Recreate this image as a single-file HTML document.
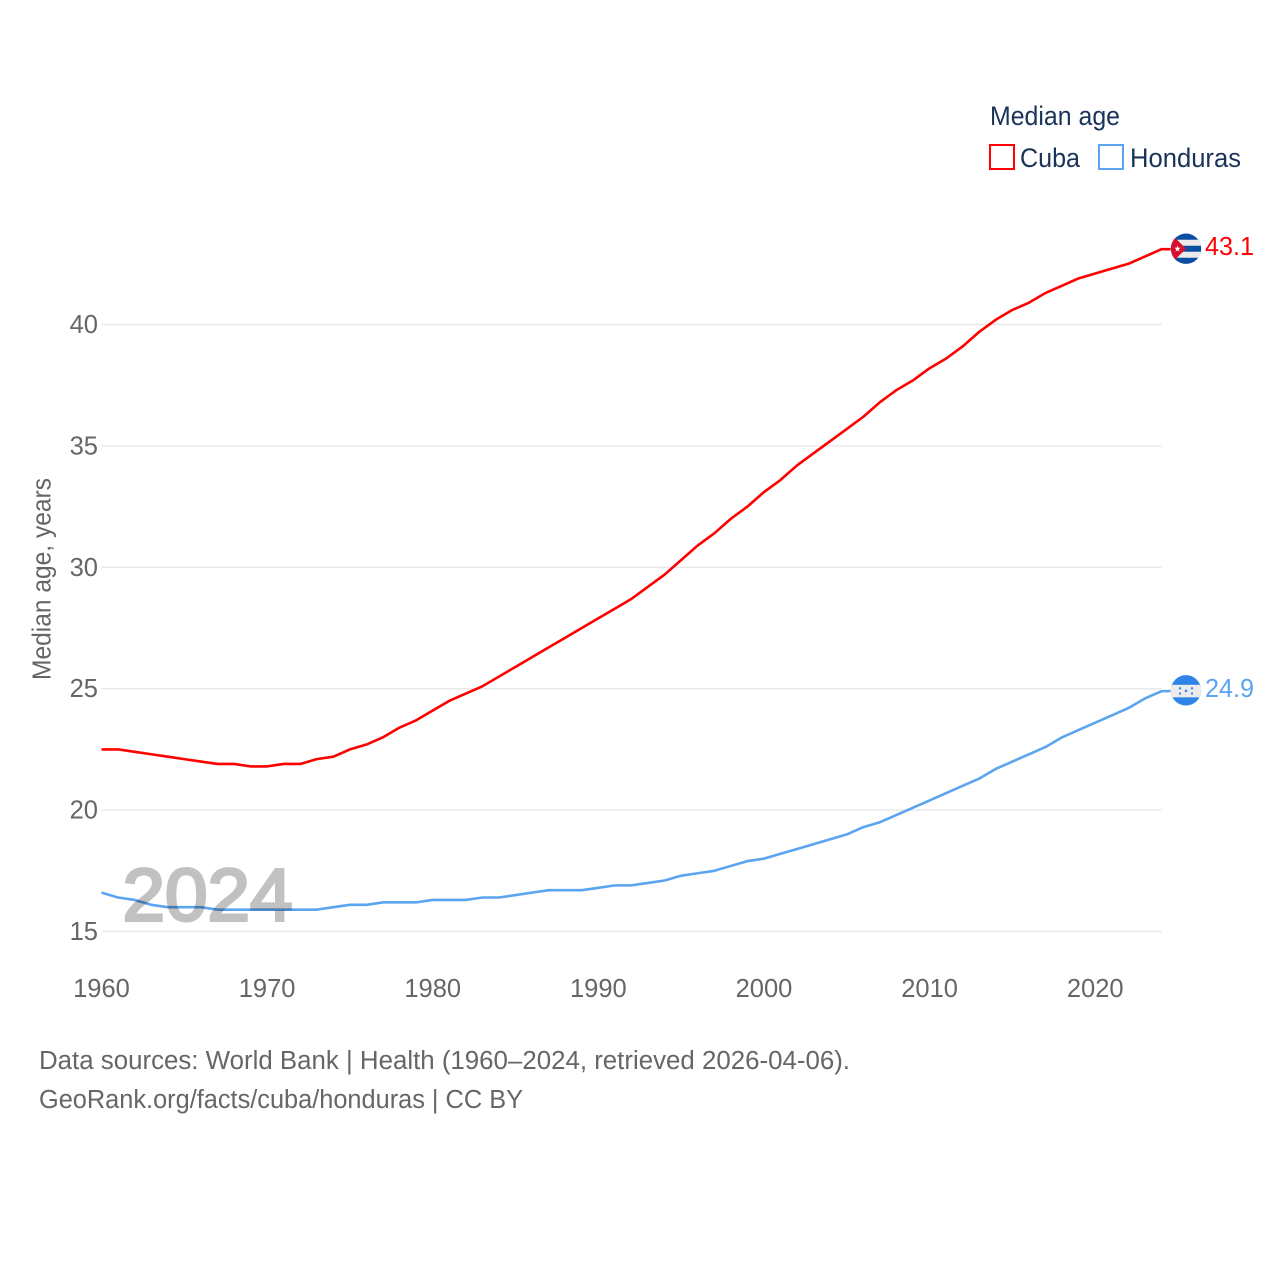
<!DOCTYPE html>
<html lang="en">
<head>
<meta charset="utf-8">
<title>Median age: Cuba and Honduras</title>
<style>
  html, body { margin: 0; padding: 0; background: #fff; }
  svg { display: block; font-family: "Liberation Sans", "DejaVu Sans", sans-serif; }
</style>
</head>
<body>
<svg id="chart" xmlns="http://www.w3.org/2000/svg" width="1280" height="1280" viewBox="0 0 1280 1280">
  <defs>
    <clipPath id="flag-clip"><circle cx="0" cy="0" r="15.2"></circle></clipPath>
  </defs>
  <rect x="0" y="0" width="1280" height="1280" fill="#ffffff"></rect>

  <g id="grid"></g>
  <g id="y-ticks"></g>
  <g id="x-ticks"></g>

  <text transform="translate(50.5,579) rotate(-90)" text-anchor="middle" font-size="25.5" fill="#666666" textLength="202" lengthAdjust="spacingAndGlyphs">Median age, years</text>

  <g id="series"></g>

  <text id="year-watermark" x="122.5" y="920.5" font-size="74" fill="#000000" stroke="#000000" stroke-width="3" opacity="0.24" textLength="170" lengthAdjust="spacingAndGlyphs">2024</text>

  <g id="flag-cuba">
    <g clip-path="url(#flag-clip)">
      <rect x="-16" y="-16" width="32" height="32" fill="#0a4ea3"></rect>
      <rect x="-16" y="-9" width="32" height="6" fill="#ececec"></rect>
      <rect x="-16" y="3" width="32" height="6" fill="#ececec"></rect>
      <polygon points="-20,-20 0,0 -20,20" fill="#d7102f"></polygon>
      <polygon points="-8.5,-3.2 -7.7,-1 -5.4,-1 -7.2,0.5 -6.6,2.8 -8.5,1.5 -10.4,2.8 -9.8,0.5 -11.6,-1 -9.3,-1" fill="#ffffff"></polygon>
    </g>
  </g>
  <g id="flag-honduras">
    <g clip-path="url(#flag-clip)">
      <rect x="-16" y="-16" width="32" height="32" fill="#2f84e8"></rect>
      <rect x="-16" y="-5.5" width="32" height="12.5" fill="#ececec"></rect>
      <circle cx="0" cy="0.5" r="1.3" fill="#3d8be6"></circle>
      <circle cx="-6" cy="-2" r="1.2" fill="#3d8be6"></circle>
      <circle cx="6" cy="-2" r="1.2" fill="#3d8be6"></circle>
      <circle cx="-6" cy="3.2" r="1.2" fill="#3d8be6"></circle>
      <circle cx="6" cy="3.2" r="1.2" fill="#3d8be6"></circle>
    </g>
  </g>
  <g id="end-labels"></g>

  <g>
    <text x="990" y="125" font-size="26.5" fill="#1a3358" textLength="130" lengthAdjust="spacingAndGlyphs">Median age</text>
    <g>
      <rect x="990" y="145" width="24" height="24" fill="#ffffff" stroke="#ff0000" stroke-width="2"></rect>
      <text x="1020" y="167" font-size="26.5" fill="#1a3358" textLength="60" lengthAdjust="spacingAndGlyphs">Cuba</text>
    </g>
    <g>
      <rect x="1099" y="145" width="24" height="24" fill="#ffffff" stroke="#5ba4f0" stroke-width="2"></rect>
      <text x="1130" y="167" font-size="26.5" fill="#1a3358" textLength="111" lengthAdjust="spacingAndGlyphs">Honduras</text>
    </g>
  </g>

  <text x="39" y="1069" font-size="25.5" fill="#666666" textLength="811" lengthAdjust="spacingAndGlyphs">Data sources: World Bank | Health (1960–2024, retrieved 2026-04-06).</text>
  <text x="39" y="1108" font-size="25.5" fill="#666666" textLength="484" lengthAdjust="spacingAndGlyphs">GeoRank.org/facts/cuba/honduras | CC BY</text>
</svg>

<script>
const startYear = 1960;
const yTickValues = [15, 20, 25, 30, 35, 40];
const xTickValues = [1960, 1970, 1980, 1990, 2000, 2010, 2020];
const cubaValues = [
  22.5, 22.5, 22.4, 22.3, 22.2, 22.1, 22.0, 21.9, 21.9, 21.8,
  21.8, 21.9, 21.9, 22.1, 22.2, 22.5, 22.7, 23.0, 23.4, 23.7,
  24.1, 24.5, 24.8, 25.1, 25.5, 25.9, 26.3, 26.7, 27.1, 27.5,
  27.9, 28.3, 28.7, 29.2, 29.7, 30.3, 30.9, 31.4, 32.0, 32.5,
  33.1, 33.6, 34.2, 34.7, 35.2, 35.7, 36.2, 36.8, 37.3, 37.7,
  38.2, 38.6, 39.1, 39.7, 40.2, 40.6, 40.9, 41.3, 41.6, 41.9,
  42.1, 42.3, 42.5, 42.8, 43.1
];
const hondurasValues = [
  16.6, 16.4, 16.3, 16.1, 16.0, 16.0, 16.0, 15.9, 15.9, 15.9,
  15.9, 15.9, 15.9, 15.9, 16.0, 16.1, 16.1, 16.2, 16.2, 16.2,
  16.3, 16.3, 16.3, 16.4, 16.4, 16.5, 16.6, 16.7, 16.7, 16.7,
  16.8, 16.9, 16.9, 17.0, 17.1, 17.3, 17.4, 17.5, 17.7, 17.9,
  18.0, 18.2, 18.4, 18.6, 18.8, 19.0, 19.3, 19.5, 19.8, 20.1,
  20.4, 20.7, 21.0, 21.3, 21.7, 22.0, 22.3, 22.6, 23.0, 23.3,
  23.6, 23.9, 24.2, 24.6, 24.9
];

const SVG_NS = 'http://www.w3.org/2000/svg';
const plotLeft = 101.5;
const plotRight = 1161.5;
const xScale = year => plotLeft + (year - 1960) * (plotRight - plotLeft) / 64;
const yScale = value => 931.5 - (value - 15) * (931.5 - 324.5) / 25;

const gridGroup = document.getElementById('grid');
const yTickGroup = document.getElementById('y-ticks');
const xTickGroup = document.getElementById('x-ticks');
const seriesGroup = document.getElementById('series');
const endLabelGroup = document.getElementById('end-labels');

yTickValues.forEach(value => {
  const line = document.createElementNS(SVG_NS, 'line');
  
  
  line.setAttribute('x1', plotLeft);
  line.setAttribute('x2', plotRight);
  line.setAttribute('y1', yScale(value));
  line.setAttribute('y2', yScale(value));
  line.setAttribute('stroke', '#e9e9e9');
  line.setAttribute('stroke-width', '1.5');
  gridGroup.appendChild(line);

  const label = document.createElementNS(SVG_NS, 'text');
  
  
  label.setAttribute('x', 98);
  label.setAttribute('y', yScale(value) + 8.5);
  label.setAttribute('text-anchor', 'end');
  label.setAttribute('font-size', '25.5');
  label.setAttribute('fill', '#666666');
  label.textContent = String(value);
  yTickGroup.appendChild(label);
});

xTickValues.forEach(year => {
  const label = document.createElementNS(SVG_NS, 'text');
  
  
  label.setAttribute('x', xScale(year));
  label.setAttribute('y', 997);
  label.setAttribute('text-anchor', 'middle');
  label.setAttribute('font-size', '25.5');
  label.setAttribute('fill', '#666666');
  label.textContent = String(year);
  xTickGroup.appendChild(label);
});

function linePath(values) {
  const points = values.map((v, i) => xScale(startYear + i).toFixed(2) + ',' + yScale(v).toFixed(2));
  const last = values[values.length - 1];
  points.push((plotRight + 9) + ',' + yScale(last).toFixed(2));
  return 'M' + points.join(' L');
}

const cubaLine = document.createElementNS(SVG_NS, 'path');


cubaLine.setAttribute('d', linePath(cubaValues));
cubaLine.setAttribute('fill', 'none');
cubaLine.setAttribute('stroke', '#ff0000');
cubaLine.setAttribute('stroke-width', '2.6');
cubaLine.setAttribute('stroke-linejoin', 'round');
seriesGroup.appendChild(cubaLine);

const hondurasLine = document.createElementNS(SVG_NS, 'path');


hondurasLine.setAttribute('d', linePath(hondurasValues));
hondurasLine.setAttribute('fill', 'none');
hondurasLine.setAttribute('stroke', '#5ba4f0');
hondurasLine.setAttribute('stroke-width', '2.6');
hondurasLine.setAttribute('stroke-linejoin', 'round');
seriesGroup.appendChild(hondurasLine);

const cubaLast = cubaValues[cubaValues.length - 1];
const hondurasLast = hondurasValues[hondurasValues.length - 1];
document.getElementById('flag-cuba').setAttribute('transform', 'translate(1186,' + (yScale(cubaLast) - 0.5) + ')');
document.getElementById('flag-honduras').setAttribute('transform', 'translate(1186,' + (yScale(hondurasLast) - 0.8) + ')');

const cubaEnd = document.createElementNS(SVG_NS, 'text');


cubaEnd.setAttribute('x', 1205);
cubaEnd.setAttribute('y', yScale(cubaLast) + 6);
cubaEnd.setAttribute('font-size', '25.5');
cubaEnd.setAttribute('fill', '#ff0000');
cubaEnd.setAttribute('textLength', '49');
cubaEnd.setAttribute('lengthAdjust', 'spacingAndGlyphs');
cubaEnd.textContent = cubaLast.toFixed(1);
endLabelGroup.appendChild(cubaEnd);

const hondurasEnd = document.createElementNS(SVG_NS, 'text');


hondurasEnd.setAttribute('x', 1205);
hondurasEnd.setAttribute('y', yScale(hondurasLast) + 6);
hondurasEnd.setAttribute('font-size', '25.5');
hondurasEnd.setAttribute('fill', '#5ba4f0');
hondurasEnd.setAttribute('textLength', '49');
hondurasEnd.setAttribute('lengthAdjust', 'spacingAndGlyphs');
hondurasEnd.textContent = hondurasLast.toFixed(1);
endLabelGroup.appendChild(hondurasEnd);
</script>
</body>
</html>
